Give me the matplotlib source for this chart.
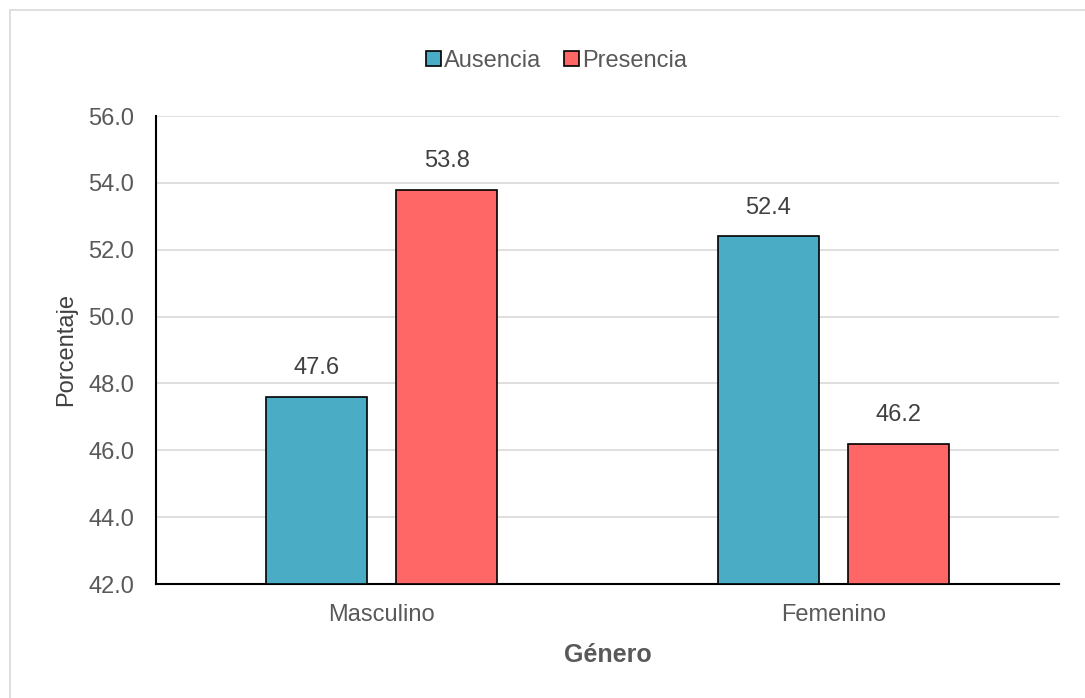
import numpy as np
import matplotlib.pyplot as plt
from matplotlib.patches import Rectangle

plt.rcParams['font.family'] = ['Liberation Sans', 'DejaVu Sans']

categorias = ['Masculino', 'Femenino']
series = ['Ausencia', 'Presencia']
ausencia = [47.6, 52.4]
presencia = [53.8, 46.2]
colores = ['#4BACC6', '#FF6666']
yticks = [42.0, 44.0, 46.0, 48.0, 50.0, 52.0, 54.0, 56.0]

W, H = 1085, 698
fig = plt.figure(figsize=(W / 100, H / 100), dpi=100)

# Chart area border (only left/top visible in the original crop)
fig.patches.append(Rectangle((10 / W, -0.1), 1.2, (H - 10) / H + 0.1,
                             transform=fig.transFigure, fill=False,
                             edgecolor='#D9D9D9', linewidth=1.2))

ax = fig.add_axes([156 / W, 1 - 584 / H, (1059 - 156) / W, (584 - 116) / H])

x = np.arange(len(categorias))
ancho = 0.224
desp = 0.144
gris = '#595959'
fs = 17

for i, (vals, col, nombre) in enumerate(zip([ausencia, presencia], colores, series)):
    pos = x + (-desp if i == 0 else desp)
    barras = ax.bar(pos, np.array(vals) - 42.0, bottom=42.0, width=ancho,
                    color=col, edgecolor='black', linewidth=1.2, label=nombre, zorder=3)
    for b, v in zip(barras, vals):
        ax.text(b.get_x() + b.get_width() / 2, v + 0.67, f'{v:.1f}',
                ha='center', va='baseline', fontsize=fs, color='#404040')

ax.set_xlim(-0.5, 1.5)
ax.set_ylim(42, 56)
ax.set_yticks(yticks)
ax.set_yticklabels([f'{t:.1f}' for t in yticks], fontsize=fs, color=gris)
ax.set_xticks(x)
ax.set_xticklabels(categorias, fontsize=fs, color=gris)
ax.tick_params(axis='y', length=0, pad=15.5)
ax.tick_params(axis='x', length=0, pad=14.5)
ax.yaxis.grid(True, color='#D9D9D9', linewidth=1.2, zorder=0)
ax.set_axisbelow(True)

for s in ['top', 'right']:
    ax.spines[s].set_visible(False)
ax.spines['left'].set_color('black')
ax.spines['bottom'].set_color('black')
ax.spines['left'].set_linewidth(1.5)
ax.spines['bottom'].set_linewidth(1.5)

ax.set_ylabel('Porcentaje', fontsize=fs, color='#404040', labelpad=8)
ax.set_xlabel('Género', fontsize=18, color=gris, fontweight='bold', labelpad=12)

leg = fig.legend(loc='center', bbox_to_anchor=(556.5 / W, 1 - 61 / H), ncol=2,
                 frameon=False, fontsize=fs, handlelength=0.62, handleheight=0.62,
                 handletextpad=0.12, columnspacing=1.0, borderpad=0)
for t in leg.get_texts():
    t.set_color(gris)

fig.savefig('out.png', dpi=100)
